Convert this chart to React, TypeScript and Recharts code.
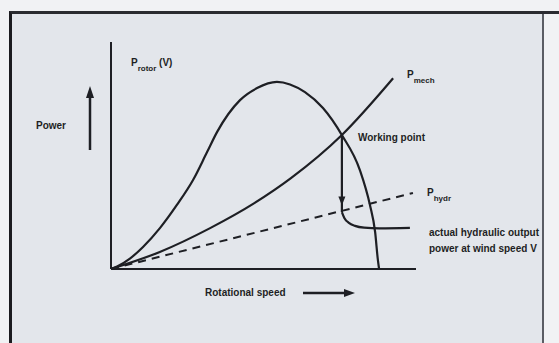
import React from "react";
import { LineChart, Line, XAxis, YAxis, ReferenceLine } from "recharts";

document.body.style.margin = "0";

// rotational speed (0-100) vs power (0-100)
const rotorSpeed = [0, 2, 6.2, 10.5, 16.1, 21.6, 26.9, 31.5, 34.8, 42.3, 47.9, 54.4, 58.7, 63.6, 69.5, 75.7, 81.6, 84.9, 86.6, 87.5, 87.9];
const rotorPower = [0, 1.1, 4.6, 9.7, 18.1, 28.2, 39.2, 51.5, 60.4, 74.4, 79.7, 82.4, 81.3, 77.9, 70.9, 59, 43.6, 28.2, 16.3, 4, 0];

const mechSpeed = [0, 16, 32.5, 47, 59, 75.7, 92.5];
const mechPower = [0, 7.5, 18, 29, 40, 59, 84];

const hydrSpeed = [0, 99];
const hydrPower = [0, 33.5];

const dropSpeed = [75.7, 75.7, 75.7];
const dropPower = [59, 28, 25.1];

const actualSpeed = [75.7, 76.5, 78, 80, 83, 88, 98];
const actualPower = [25.1, 22.5, 20.3, 19, 18.2, 17.9, 18.1];

const zip = (xs: number[], ys: number[]) => xs.map((x, i) => ({ x, y: ys[i] }));

const rotor = zip(rotorSpeed, rotorPower);
const mech = zip(mechSpeed, mechPower);
const hydr = zip(hydrSpeed, hydrPower);
const drop = zip(dropSpeed, dropPower);
const actual = zip(actualSpeed, actualPower);

const ink = "#1e1f24";
const lbl: React.CSSProperties = {
  position: "absolute",
  fontFamily: "'Liberation Sans', Arial, sans-serif",
  fontWeight: 700,
  fontSize: 10,
  color: ink,
  whiteSpace: "nowrap",
  lineHeight: 1,
};
const sub: React.CSSProperties = { fontSize: 8, position: "relative", top: 5 };

const ArrowDot = (props: any) => {
  const { cx, cy, index } = props;
  if (index !== 1) return <g key={"d" + index} />;
  return <path key={"d" + index} d={`M${cx - 3.5},${cy - 9} L${cx + 3.5},${cy - 9} L${cx},${cy} Z`} fill={ink} />;
};

export default function App() {
  return (
    <div style={{ position: "relative", width: 559, height: 343, overflow: "hidden", background: "#f1f2f4" }}>
      <div
        style={{
          position: "absolute",
          left: 9,
          top: 11,
          width: 530,
          height: 340,
          background: "#e3e6eb",
          borderLeft: "3px solid #1b1b1f",
          borderTop: "3px solid #2a2b30",
          borderRight: "2px solid #5b5d64",
          borderBottom: "2px solid #3a3b40",
        }}
      />
      <div style={{ position: "absolute", left: 536, top: 11, width: 23, height: 3, background: "#2a2b30" }} />
      <div style={{ position: "absolute", left: 0, top: 0 }}>
        <LineChart width={559} height={343} margin={{ top: 42, right: 143, bottom: 74, left: 111 }}>
          <XAxis type="number" dataKey="x" domain={[0, 100]} hide />
          <YAxis type="number" dataKey="y" domain={[0, 100]} hide />
          <ReferenceLine segment={[{ x: 0, y: 0 }, { x: 100, y: 0 }]} stroke={ink} strokeWidth={2.2} ifOverflow="visible" />
          <ReferenceLine segment={[{ x: 0, y: 0 }, { x: 0, y: 100 }]} stroke={ink} strokeWidth={2} ifOverflow="visible" />
          <Line data={hydr} dataKey="y" type="linear" stroke={ink} strokeWidth={2} strokeDasharray="8 6" dot={false} isAnimationActive={false} />
          <Line data={mech} dataKey="y" type="monotone" stroke={ink} strokeWidth={2.2} dot={false} isAnimationActive={false} />
          <Line data={rotor} dataKey="y" type="monotone" stroke={ink} strokeWidth={2.2} dot={false} isAnimationActive={false} />
          <Line data={drop} dataKey="y" type="linear" stroke={ink} strokeWidth={2.2} dot={ArrowDot} isAnimationActive={false} />
          <Line data={actual} dataKey="y" type="monotone" stroke={ink} strokeWidth={2.2} dot={false} isAnimationActive={false} />
        </LineChart>
      </div>

      <svg width={559} height={343} style={{ position: "absolute", left: 0, top: 0 }}>
        <line x1={90} y1={150} x2={90} y2={96} stroke={ink} strokeWidth={2.5} />
        <path d="M86,98 L94,98 L90,86 Z" fill={ink} />
        <line x1={303} y1={293} x2={346} y2={293} stroke={ink} strokeWidth={2.5} />
        <path d="M344,289 L344,297 L355,293 Z" fill={ink} />
      </svg>

      <div style={{ ...lbl, left: 36, top: 121 }}>Power</div>
      <div style={{ ...lbl, left: 131, top: 58 }}>
        P<span style={sub}>rotor</span> (V)
      </div>
      <div style={{ ...lbl, left: 407, top: 70 }}>
        P<span style={sub}>mech</span>
      </div>
      <div style={{ ...lbl, left: 358, top: 133 }}>Working point</div>
      <div style={{ ...lbl, left: 427, top: 188 }}>
        P<span style={sub}>hydr</span>
      </div>
      <div style={{ ...lbl, left: 429, top: 225, lineHeight: "16px" }}>
        actual hydraulic output
        <br />
        power at wind speed V
      </div>
      <div style={{ ...lbl, left: 205, top: 288 }}>Rotational speed</div>
    </div>
  );
}
